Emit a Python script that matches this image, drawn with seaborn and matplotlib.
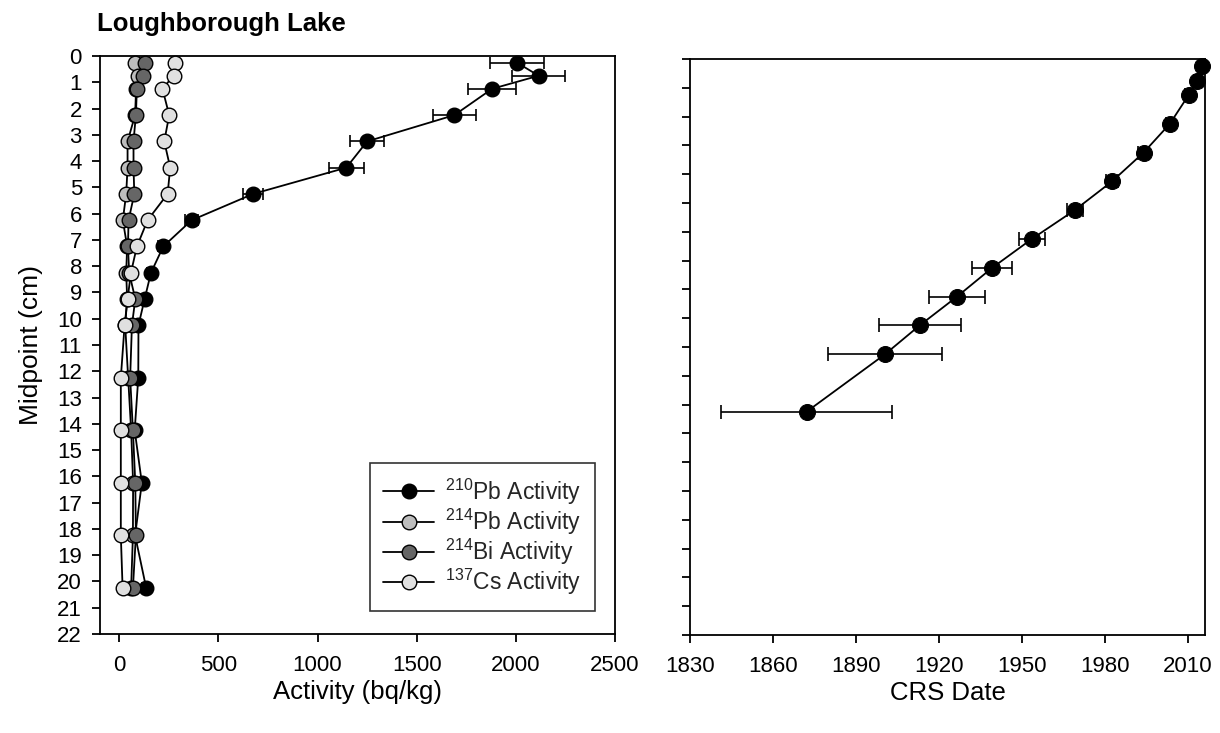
import numpy as np
import pandas as pd
import matplotlib
matplotlib.use("Agg")
import matplotlib.pyplot as plt
import seaborn as sns
from matplotlib.lines import Line2D

# ---------------- data ----------------
depth = [0.25, 0.75, 1.25, 2.25, 3.25, 4.25, 5.25, 6.25, 7.25, 8.25, 9.25,
         10.25, 12.25, 14.25, 16.25, 18.25, 20.25]
pb210 = [2005, 2115, 1880, 1690, 1250, 1145, 675, 365, 222, 160, 128,
         97, 96, 78, 114, 80, 136]
pb210_err = [135, 135, 120, 110, 85, 88, 52, 33, 25, 22, 20,
             18, 20, 18, 20, 18, 20]
pb214 = [77, 94, 85, 80, 42, 42, 35, 18, 40, 35, 40,
         30, 45, 60, 70, 69, 60]
pb214_err = [10, 10, 10, 10, 9, 9, 9, 8, 8, 8, 8, 8, 8, 8, 8, 8, 8]
bi214 = [131, 118, 89, 84, 72, 72, 76, 47, 44, 50, 81,
         64, 55, 69, 81, 84, 69]
bi214_err = [10, 10, 10, 10, 9, 9, 9, 8, 8, 8, 8, 8, 8, 8, 8, 8, 8]
cs137 = [279, 274, 218, 252, 227, 257, 244, 143, 89, 59, 42,
         27, 8, 8, 8, 8, 17]
cs137_err = [14, 13, 12, 12, 11, 11, 11, 9, 8, 7, 6, 6, 5, 5, 5, 5, 5]

series_names = ["$\\mathregular{^{210}}$Pb Activity",
                "$\\mathregular{^{214}}$Pb Activity",
                "$\\mathregular{^{214}}$Bi Activity",
                "$\\mathregular{^{137}}$Cs Activity"]
series_colors = ["#000000", "#bdbdbd", "#666666", "#e0e0e0"]

crs_depth = [0.25, 0.75, 1.25, 2.25, 3.25, 4.25, 5.25, 6.25, 7.25, 8.25,
             9.25, 10.25, 12.25]
crs_date = [2015.1, 2013.2, 2010.2, 2003.4, 1993.9, 1982.5, 1969.0, 1953.5,
            1939.2, 1926.5, 1913.0, 1900.5, 1872.1]
crs_err = [0.8, 1.0, 1.2, 1.5, 2.0, 2.3, 2.9, 4.7, 7.2, 10.2, 14.8, 20.7, 30.9]

x_ticks_left = [0, 500, 1000, 1500, 2000, 2500]
y_ticks_left = list(range(0, 23))
x_ticks_right = [1830, 1860, 1890, 1920, 1950, 1980, 2010]
y_ticks_right = list(range(0, 21))

# ---------------- style ----------------
sns.set_theme(style="ticks")
plt.rcParams["font.family"] = ["Liberation Sans", "DejaVu Sans"]
plt.rcParams["mathtext.fontset"] = "custom"
plt.rcParams["mathtext.rm"] = "Liberation Sans"
plt.rcParams["axes.edgecolor"] = "black"
plt.rcParams["axes.linewidth"] = 1.3

fig = plt.figure(figsize=(12.2, 7.33), dpi=100)
axL = fig.add_axes([100 / 1220, 1 - 634 / 733, 515 / 1220, 578 / 733])
axR = fig.add_axes([690 / 1220, 1 - 635 / 733, 515 / 1220, 576 / 733])

# ---------------- left panel ----------------
values = [pb210, pb214, bi214, cs137]
errs = [pb210_err, pb214_err, bi214_err, cs137_err]
for i, (vals, err, name, col) in enumerate(zip(values, errs, series_names, series_colors)):
    df = pd.DataFrame({"activity": vals, "depth": depth})
    axL.errorbar(vals, depth, xerr=err, fmt="none", ecolor="black",
                 elinewidth=1.2, capsize=4.5, capthick=1.2, zorder=2 + 2 * i)
    sns.lineplot(data=df, x="activity", y="depth", orient="y", sort=False,
                 ax=axL, color="black", linewidth=1.3, marker="o",
                 markersize=10.5, markerfacecolor=col, markeredgecolor="black",
                 markeredgewidth=1.0, zorder=3 + 2 * i, clip_on=False)

axL.set_xlim(-97, 2500)
axL.set_ylim(22, 0)
axL.set_xticks(x_ticks_left)
axL.set_yticks(y_ticks_left)
axL.tick_params(axis="both", direction="out", length=6, width=1.3,
                labelsize=16, color="black", labelcolor="black")
axL.tick_params(axis="x", pad=9)
axL.tick_params(axis="y", pad=7)
axL.set_xlabel("Activity (bq/kg)", fontsize=18.5, labelpad=3, color="black")
axL.set_ylabel("Midpoint (cm)", fontsize=19, labelpad=10, color="black")
for s in axL.spines.values():
    s.set_visible(True)
    s.set_color("black")

handles = [Line2D([0], [0], color="black", lw=1.3, marker="o", markersize=10.5,
                  markerfacecolor=c, markeredgecolor="black")
           for c in series_colors]
leg = axL.legend(handles, series_names, loc="lower right",
                 bbox_to_anchor=(0.962, 0.04), fontsize=16.5, frameon=True,
                 fancybox=False, edgecolor="black", handlelength=2.2,
                 handletextpad=0.5, labelspacing=0.0, borderpad=0.6,
                 borderaxespad=0)
leg.get_frame().set_linewidth(1.2)

axL.text(-0.006, 1.035, "Loughborough Lake", transform=axL.transAxes,
         fontsize=18.5, fontweight="bold", ha="left", va="bottom", color="black")

# ---------------- right panel ----------------
dfr = pd.DataFrame({"date": crs_date, "depth": crs_depth})
axR.errorbar(crs_date, crs_depth, xerr=crs_err, fmt="none", ecolor="black",
             elinewidth=1.2, capsize=5, capthick=1.2, zorder=2, clip_on=False)
sns.lineplot(data=dfr, x="date", y="depth", orient="y", sort=False, ax=axR,
             color="black", linewidth=1.3, marker="o", markersize=11.5,
             markerfacecolor="black", markeredgecolor="black", zorder=3,
             clip_on=False)
axR.set_xlim(1830, 2016.1)
axR.set_ylim(20, 0)
axR.set_xticks(x_ticks_right)
axR.set_yticks(y_ticks_right)
axR.set_yticklabels([])
axR.tick_params(axis="both", direction="out", length=6, width=1.3,
                labelsize=16, color="black", labelcolor="black")
axR.tick_params(axis="x", pad=9)
axR.set_xlabel("CRS Date", fontsize=18.5, labelpad=3, color="black")
axR.set_ylabel("")
for s in axR.spines.values():
    s.set_visible(True)
    s.set_color("black")

fig.savefig("out.png", dpi=100, facecolor="white")
